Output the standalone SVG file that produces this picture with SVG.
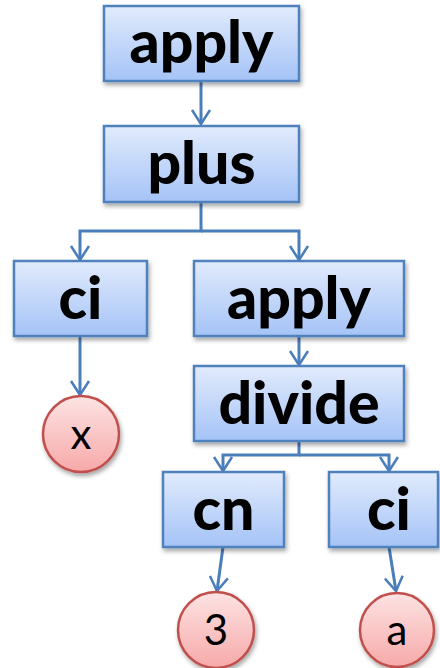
<svg xmlns="http://www.w3.org/2000/svg" width="440" height="668" viewBox="0 0 440 668">
  <defs>
    <linearGradient id="boxGrad" x1="0" y1="0" x2="0" y2="1">
      <stop offset="0" stop-color="#e1ebfc"/>
      <stop offset="1" stop-color="#a5c3f7"/>
    </linearGradient>
    <linearGradient id="circGrad" x1="0" y1="0" x2="0" y2="1">
      <stop offset="0" stop-color="#fde3e3"/>
      <stop offset="1" stop-color="#f7a9a9"/>
    </linearGradient>
    <filter id="shadow" x="-10%" y="-10%" width="130%" height="140%">
      <feDropShadow dx="1.5" dy="3" stdDeviation="2" flood-color="#000" flood-opacity="0.35"/>
    </filter>
    <marker id="arrow" viewBox="-16 -11 18 22" markerWidth="18" markerHeight="22" refX="0" refY="0" orient="auto" markerUnits="userSpaceOnUse">
      <path d="M-14,-9 L0,0 L-14,9" fill="none" stroke="#4a7ebb" stroke-width="2.5" stroke-linejoin="miter"/>
    </marker>
    <style>
      .box { fill: url(#boxGrad); stroke: #4f81bd; stroke-width: 2.5; filter: url(#shadow); }
      .circ { fill: url(#circGrad); stroke: #c0504d; stroke-width: 2.5; filter: url(#shadow); }
      .lbl { font-family: "Lato", "Liberation Sans", sans-serif; font-weight: 900; font-size: 59px; fill: #000; text-anchor: middle; }
      .val { font-family: "Lato", "Liberation Sans", sans-serif; font-weight: normal; font-size: 42px; fill: #000; text-anchor: middle; }
      .conn { fill: none; stroke: #4a7ebb; stroke-width: 3; marker-end: url(#arrow); }
    </style>
  </defs>

  <g id="connectors">
    <path class="conn" d="M201,81 V124"/>
    <path class="conn" d="M201,202 V231 H80 V260"/>
    <path class="conn" d="M201,231 H299 V260"/>
    <path class="conn" d="M80,336 V395"/>
    <path class="conn" d="M299,336 V365"/>
    <path class="conn" d="M299,441 V455 H223 V471"/>
    <path class="conn" d="M299,455 H389 V471"/>
    <path class="conn" d="M223,547 L217,591"/>
    <path class="conn" d="M389,547 L396,591"/>
  </g>

  <g id="apply1">
    <rect class="box" x="104" y="6" width="195" height="75"/>
    <text class="lbl" x="201.5" y="63">apply</text>
  </g>
  <g id="plus">
    <rect class="box" x="104" y="126" width="195" height="76"/>
    <text class="lbl" x="201.5" y="184">plus</text>
  </g>
  <g id="ci1">
    <rect class="box" x="14" y="261" width="133" height="75"/>
    <text class="lbl" x="80.5" y="319">ci</text>
  </g>
  <g id="apply2">
    <rect class="box" x="194" y="261" width="210" height="75"/>
    <text class="lbl" x="299" y="319">apply</text>
  </g>
  <g id="divide">
    <rect class="box" x="194" y="366" width="210" height="75"/>
    <text class="lbl" x="299" y="424">divide</text>
  </g>
  <g id="cn">
    <rect class="box" x="163" y="472" width="121" height="75"/>
    <text class="lbl" x="223.5" y="530">cn</text>
  </g>
  <g id="ci2">
    <rect class="box" x="329" y="472" width="109" height="75"/>
    <text class="lbl" x="389" y="530">ci</text>
  </g>
  <g id="x">
    <circle class="circ" cx="81" cy="434" r="38"/>
    <text class="val" x="81" y="449">x</text>
  </g>
  <g id="three">
    <circle class="circ" cx="216" cy="630" r="38"/>
    <text class="val" x="216" y="645">3</text>
  </g>
  <g id="a">
    <circle class="circ" cx="397" cy="630" r="37"/>
    <text class="val" x="397" y="645">a</text>
  </g>
</svg>
